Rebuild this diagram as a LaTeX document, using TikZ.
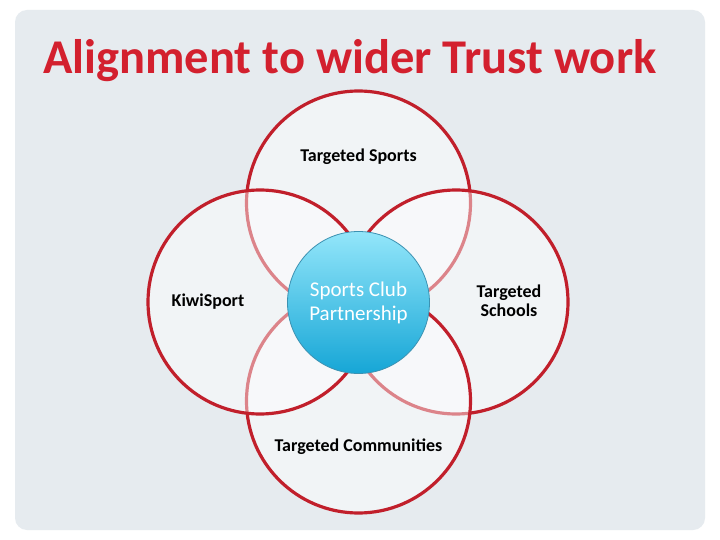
\documentclass[tikz,border=0pt]{standalone}
\usepackage{fontspec}
\setmainfont{Carlito}
\definecolor{bgpanel}{HTML}{E6EBEF}
\definecolor{ringred}{HTML}{C11F2B}
\definecolor{titlered}{HTML}{D3202E}
\definecolor{hubtop}{HTML}{93E6FA}
\definecolor{hubbot}{HTML}{16A6D6}
\definecolor{hubedge}{HTML}{3C92B2}
\begin{document}
\begin{tikzpicture}[x=1pt,y=-1pt,
  ring/.style={circle, minimum size=224pt, inner sep=0pt, draw=ringred,
    line width=3.2pt, fill=white, fill opacity=0.45, draw opacity=1},
  lbl/.style={font=\bfseries\fontsize{18}{19}\selectfont, align=center, text=black},
  hub/.style={circle, minimum size=142pt, inner sep=0pt, draw=hubedge,
    line width=0.8pt, top color=hubtop, bottom color=hubbot,
    text=white, align=center, font=\fontsize{21}{24}\selectfont}]
\useasboundingbox (0,0) rectangle (720,540);
\fill[white] (0,0) rectangle (720,540);
\fill[bgpanel, rounded corners=12pt] (15,10) rectangle (705,530);
\node[anchor=base west, text=titlered, font=\bfseries\fontsize{48.5}{56}\selectfont, inner sep=0pt] (title) at (43,74) {Alignment to wider Trust work};
\node[ring] (ctop) at (358.5,203) {};
\node[ring] (cright) at (456,302) {};
\node[ring] (cbottom) at (358.5,401) {};
\node[ring] (cleft) at (260,302) {};
\node[hub] (hub) at (358.5,302.5) {Sports Club\\Partnership};
\node[lbl] (tsp) at (358.5,157) {Targeted Sports};
\node[lbl] (kiwi) at (208,302) {KiwiSport};
\node[lbl] (tsch) at (509,301) {Targeted\\Schools};
\node[lbl] (tcom) at (358.5,447) {Targeted Communities};
\end{tikzpicture}
\end{document}
